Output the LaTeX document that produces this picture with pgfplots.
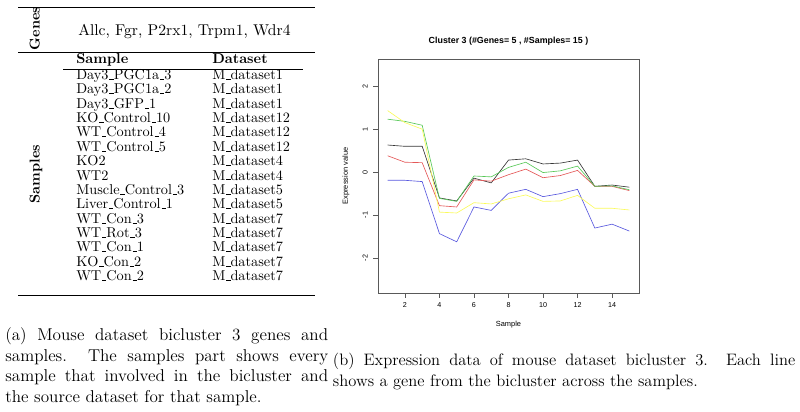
\documentclass[border=0pt]{standalone}
\usepackage{fontspec}
\usepackage{pgfplots}
\usepackage{pgfplotstable}
\pgfplotsset{compat=1.18}
\newfontfamily\plotfont{Liberation Sans}
\definecolor{gblack}{RGB}{55,55,55}
\definecolor{gred}{RGB}{228,88,88}
\definecolor{ggreen}{RGB}{88,200,88}
\definecolor{gblue}{RGB}{88,88,222}
\definecolor{gyellow}{RGB}{250,250,90}
\newcommand\us{\leavevmode\kern.06em\vbox{\hrule width.3em}}
\newcommand\capfont{\fontsize{12}{14.2}\selectfont}
\newcommand\capfontb{\fontsize{11.6}{14.2}\selectfont}
\pgfplotstableread{
x black green red yellow blue
1  0.63  1.23  0.38  1.43 -0.19
2  0.60  1.18  0.23  1.15 -0.19
3  0.60  1.09  0.22  1.00 -0.22
4 -0.60 -0.61 -0.78 -0.93 -1.43
5 -0.67 -0.68 -0.81 -0.95 -1.62
6 -0.14 -0.09 -0.18 -0.71 -0.81
7 -0.25 -0.11 -0.21 -0.74 -0.89
8  0.28  0.11 -0.06 -0.62 -0.49
9  0.31  0.23  0.07 -0.53 -0.40
10 0.19 -0.01 -0.13 -0.68 -0.57
11 0.21  0.03 -0.08 -0.67 -0.50
12 0.28  0.14  0.04 -0.54 -0.40
13 -0.33 -0.33 -0.33 -0.84 -1.30
14 -0.30 -0.32 -0.33 -0.84 -1.21
15 -0.35 -0.41 -0.43 -0.88 -1.37
}\exprdata
\begin{document}
\begin{tikzpicture}
\useasboundingbox (0,0) rectangle (560pt,-288.4pt);
\begin{scope}[x=0.7pt,y=-0.7pt]
% table rules
\draw[line width=0.7pt] (18,7.3) -- (315,7.3);
\draw[line width=0.5pt] (18,52.3) -- (315,52.3);
\draw[line width=0.5pt] (63,69.3) -- (303,69.3);
\draw[line width=0.7pt] (18,296) -- (315,296);
\node[rotate=90,anchor=base,inner sep=0pt,font=\bfseries] at (39.5,28.5) {Genes};
\node[rotate=90,anchor=base,inner sep=0pt,font=\bfseries] at (39.5,174) {Samples};
\node[anchor=base west,inner sep=0pt,font=\fontsize{10.95}{13}\selectfont] at (78,35.3) {Allc, Fgr, P2rx1, Trpm1, Wdr4};
\node[anchor=base west,inner sep=0pt,font=\bfseries] at (76,63.3) {Sample};
\node[anchor=base west,inner sep=0pt,font=\bfseries] at (212,63.3) {Dataset};
\foreach \s/\d [count=\i from 0] in {Day3\us PGC1a\us 3/M\us dataset1, Day3\us PGC1a\us 2/M\us dataset1, Day3\us GFP\us 1/M\us dataset1, KO\us Control\us 10/M\us dataset12, WT\us Control\us 4/M\us dataset12, WT\us Control\us 5/M\us dataset12, KO2/M\us dataset4, WT2/M\us dataset4, Muscle\us Control\us 3/M\us dataset5, Liver\us Control\us 1/M\us dataset5, WT\us Con\us 3/M\us dataset7, WT\us Rot\us 3/M\us dataset7, WT\us Con\us 1/M\us dataset7, KO\us Con\us 2/M\us dataset7, WT\us Con\us 2/M\us dataset7}{
  \node[anchor=base west,inner sep=0pt] at (76,{79.3+14.39*\i}) {\s};
  \node[anchor=base west,inner sep=0pt] at (212,{79.3+14.39*\i}) {\d};
}
% captions
\node[anchor=base west,inner sep=0pt,font=\capfont] at (5,340.7) {\makebox[226pt][s]{(a) Mouse dataset bicluster 3 genes and}};
\node[anchor=base west,inner sep=0pt,font=\capfont] at (5,361.2) {\makebox[226pt][s]{samples.\ \ The samples part shows every}};
\node[anchor=base west,inner sep=0pt,font=\capfont] at (5,381.7) {\makebox[226pt][s]{sample that involved in the bicluster and}};
\node[anchor=base west,inner sep=0pt,font=\capfont] at (5,402.2) {the source dataset for that sample.};
\node[anchor=base west,inner sep=0pt,font=\capfontb] at (332.7,366) {\makebox[323.6pt][s]{(b) Expression data of mouse dataset bicluster 3. Each line}};
\node[anchor=base west,inner sep=0pt,font=\capfontb] at (332.7,386.3) {shows a gene from the bicluster across the samples.};
\end{scope}
\begin{axis}[
  at={(264.6pt,-205.1pt)}, anchor=south west,
  scale only axis, width=182.7pt, height=163.8pt,
  xmin=0.44, xmax=15.56, ymin=-2.81, ymax=2.63,
  xtick={2,4,...,14}, ytick={-2,-1,0,1,2},
  xtick pos=left, ytick pos=left,
  tick align=outside, major tick length=3.5pt,
  axis line style={black!65, line width=0.5pt},
  every tick/.style={black!65, line width=0.5pt},
  /pgf/number format/assume math mode=true,
  ticklabel style={font=\plotfont\fontsize{5}{6}\selectfont},
  yticklabel style={rotate=90, anchor=south, inner sep=0pt, yshift=3.5pt},
  xticklabel style={inner sep=0pt, yshift=-3pt},
  xlabel={Sample}, ylabel={Expression value},
  every axis x label/.style={at={(axis description cs:0.5,0)}, anchor=center, yshift=-22.4pt, font=\plotfont\fontsize{5.2}{6}\selectfont},
  every axis y label/.style={at={(axis description cs:0,0.5)}, anchor=center, rotate=90, yshift=22.4pt, font=\plotfont\fontsize{5.2}{6}\selectfont},
  title={Cluster 3 (\#Genes= 5 , \#Samples= 15 )},
  every axis title/.style={at={(axis description cs:0.5,1)}, anchor=center, yshift=12.25pt, font=\plotfont\bfseries\fontsize{6.2}{7}\selectfont},
  every axis plot/.style={line width=0.45pt, no markers},
]
\addplot[gblack] table[x=x,y=black] {\exprdata};
\addplot[gred] table[x=x,y=red] {\exprdata};
\addplot[ggreen] table[x=x,y=green] {\exprdata};
\addplot[gblue] table[x=x,y=blue] {\exprdata};
\addplot[gyellow] table[x=x,y=yellow] {\exprdata};
\end{axis}
\end{tikzpicture}
\end{document}
